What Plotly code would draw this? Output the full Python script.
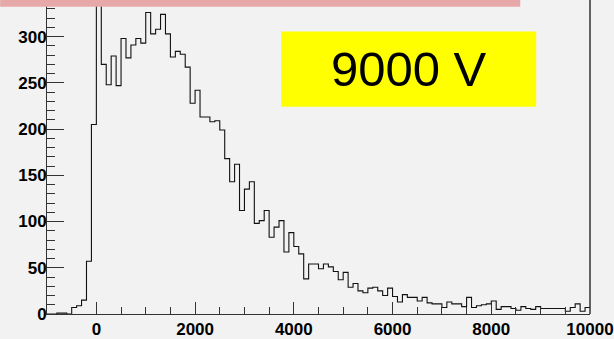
import numpy as np
import plotly.graph_objects as go

# Histogram binning: 110 bins of width 100 from -1000 to 10000
bin_lo = -1000
bin_width = 100

counts = [
    # -1000 .. 0
    0, 0, 1, 1, 0, 7, 9, 15, 57, 205,
    # 0 .. 1000
    410, 270, 248, 279, 247, 298, 277, 291, 298, 293,
    # 1000 .. 2000
    326, 303, 308, 324, 303, 278, 284, 281, 267, 228,
    # 2000 .. 3000
    242, 213, 213, 208, 209, 199, 168, 143, 162, 112,
    # 3000 .. 4000
    135, 143, 98, 101, 112, 83, 94, 101, 67, 88,
    # 4000 .. 5000
    73, 65, 38, 54, 54, 49, 54, 51, 46, 37,
    # 5000 .. 6000
    45, 29, 33, 25, 23, 28, 29, 25, 20, 28,
    # 6000 .. 7000
    19, 13, 21, 18, 18, 14, 18, 12, 11, 11,
    # 7000 .. 8000
    7, 13, 11, 11, 8, 18, 7, 9, 10, 11,
    # 8000 .. 9000
    14, 5, 8, 8, 6, 4, 8, 6, 5, 8,
    # 9000 .. 10000
    6, 6, 6, 6, 6, 3, 7, 11, 3, 7,
]

label_text = "9000 V"

edges = bin_lo + bin_width * np.arange(len(counts) + 1)
step_x = list(edges)
step_y = counts + [counts[-1]]

W, H = 614, 339
ML, MR, MT, MB = 47, 22, 0, 19
plot_w = W - ML - MR
plot_h = H - MT - MB

def px_x(p):
    return (p - ML) / plot_w

def px_y(p):
    return (H - MB - p) / plot_h

bg = "#f2f2f2"
axis_col = "#333333"
tick_font = dict(family="Liberation Sans", size=17, color="black", weight="bold")

fig = go.Figure()
fig.add_trace(go.Scatter(
    x=step_x, y=step_y, mode="lines",
    line=dict(shape="hv", color="#111111", width=1.1),
    hoverinfo="skip", showlegend=False,
))

fig.update_layout(
    width=W, height=H,
    margin=dict(l=ML, r=MR, t=MT, b=MB, pad=0),
    paper_bgcolor=bg, plot_bgcolor=bg,
    showlegend=False,
    xaxis=dict(
        range=[-1000, 10000], showgrid=False, zeroline=False,
        showline=True, linecolor=axis_col, linewidth=1,
        ticks="inside", ticklen=12, tickcolor=axis_col, tickwidth=1,
        tick0=0, dtick=2000, tickfont=tick_font,
        tickformat="d", exponentformat="none", separatethousands=False,
        ticklabeloverflow="allow",
        minor=dict(ticks="inside", dtick=500, ticklen=7, tickcolor=axis_col, tickwidth=1),
    ),
    yaxis=dict(
        range=[0, (H - MB) / 0.9423], showgrid=False, zeroline=False,
        showline=True, linecolor=axis_col, linewidth=1,
        ticks="inside", ticklen=17, tickcolor=axis_col, tickwidth=1,
        tick0=0, dtick=50, tickfont=tick_font, ticklabelstandoff=-4,
        ticklabeloverflow="allow",
        minor=dict(ticks="inside", dtick=10, ticklen=8, tickcolor=axis_col, tickwidth=1),
    ),
)

# right frame edge
fig.add_shape(type="line", xref="paper", yref="paper",
              x0=1, x1=1, y0=0, y1=px_y(0),
              line=dict(color=axis_col, width=1.5), layer="above")

# title strip along the top
fig.add_shape(type="rect", xref="paper", yref="paper",
              x0=px_x(0), x1=px_x(522), y0=px_y(7), y1=px_y(0),
              fillcolor="#e6a8a8", line=dict(width=0), layer="above")

# voltage label box
fig.add_shape(type="rect", xref="paper", yref="paper",
              x0=px_x(282), x1=px_x(538), y0=px_y(108.7), y1=px_y(32),
              fillcolor="#ffff00", line=dict(width=0), layer="above")
fig.add_annotation(
    xref="paper", yref="paper", x=px_x(410), y=px_y(70.5),
    text=label_text, showarrow=False, xanchor="center", yanchor="middle",
    font=dict(family="Liberation Sans", size=49, color="black"),
)

fig.write_html("out.html")
